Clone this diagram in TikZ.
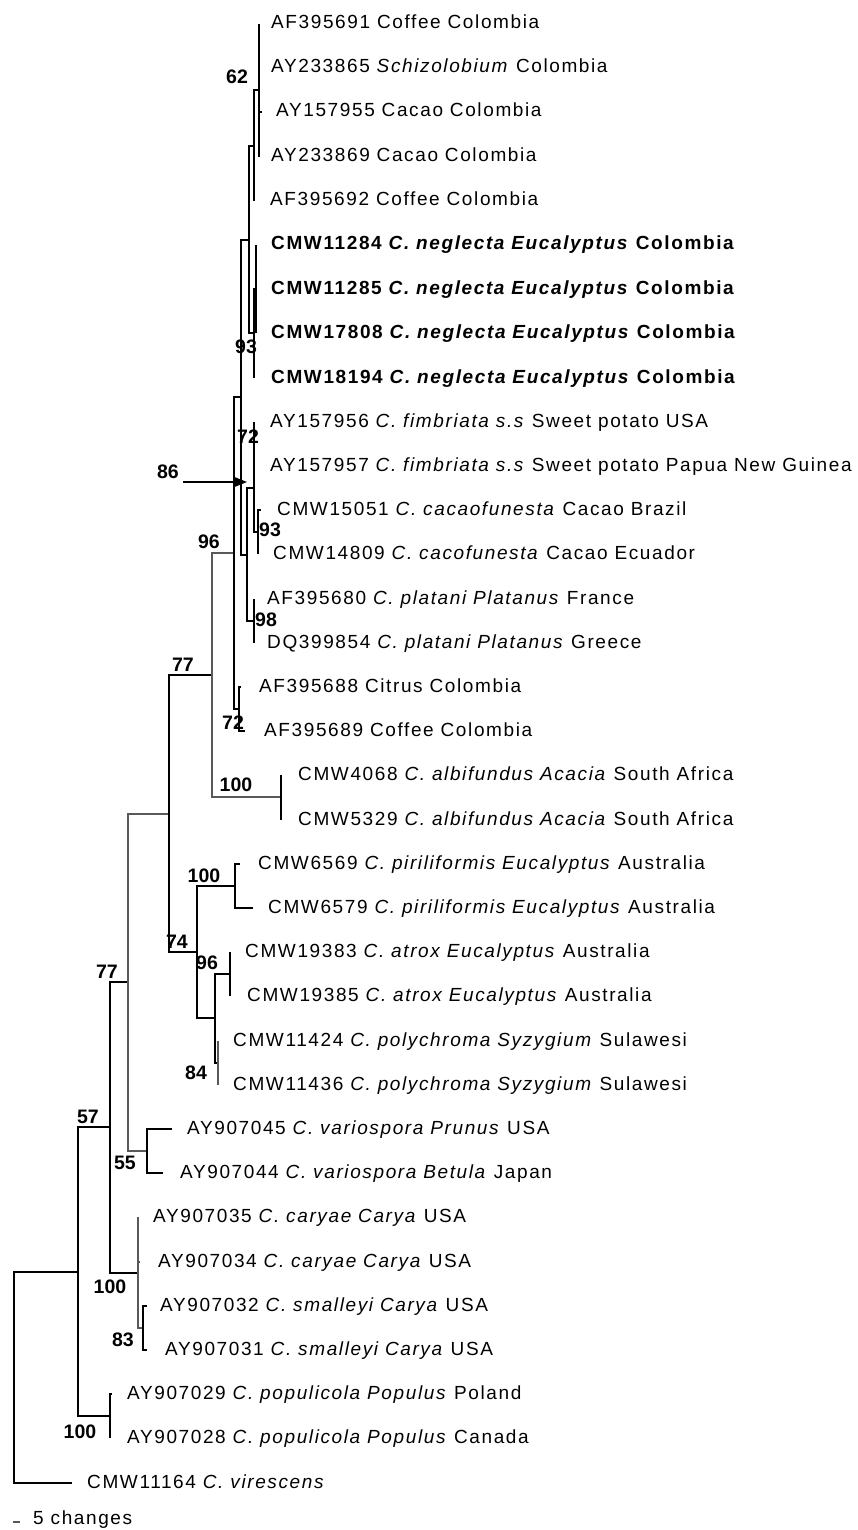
\documentclass[tikz,border=0pt]{standalone}
\usepackage{fontspec}
\setmainfont{Liberation Sans}[LetterSpace=8.5]
\newfontfamily\bootfont{Liberation Sans}
\usetikzlibrary{arrows.meta}
\tikzset{
taxon/.style={anchor=base west, inner sep=0pt, yshift=-5pt,
	font=\fontsize{19}{22}\selectfont},
boot/.style={inner sep=0pt, font=\bootfont\fontsize{19.5}{22}\selectfont\bfseries},
branch/.style={draw, line width=1.2pt},
faint/.style={branch, draw=black!65}
}

\begin{document}
\begin{tikzpicture}[x=1pt, y=-1pt]
	\useasboundingbox (0,0) rectangle (857,1530);
	% internal nodes
	\coordinate (root) at (14,1377);
	\coordinate (n57) at (78,1272);
	\coordinate (n77b) at (110,1127);
	\coordinate (npop) at (110,1416);
	\coordinate (ngray) at (128,982);
	\coordinate (ncar) at (138,1273);
	\coordinate (nsma) at (143,1328);
	\coordinate (nvar) at (147,1151);
	\coordinate (nA) at (169,814);
	\coordinate (nB) at (212,675);
	\coordinate (nC) at (197,952);
	\coordinate (nD) at (215,1018);
	\coordinate (npir) at (235,886);
	\coordinate (natr) at (230,974);
	\coordinate (npol) at (218,1063);
	\coordinate (nalb) at (281,797);
	\coordinate (nfim) at (234,553);
	\coordinate (ncit) at (239,709);
	\coordinate (nE) at (241,397);
	\coordinate (nF) at (249,240);
	\coordinate (nG) at (247,555);
	\coordinate (n62) at (254,146);
	\coordinate (ntop) at (259,90);
	\coordinate (nneg) at (254,333);
	\coordinate (nnegA) at (256,289);
	\coordinate (nH) at (254,488);
	\coordinate (nfs) at (254,444);
	\coordinate (ncac) at (258,532);
	\coordinate (npla) at (254,621);
	% tips
	\coordinate (c1) at (259,24);
	\coordinate (c2) at (259,68);
	\coordinate (c3) at (262,112);
	\coordinate (c4) at (259,157);
	\coordinate (c5) at (254,201);
	\coordinate (c6) at (256,245);
	\coordinate (c7) at (256,289);
	\coordinate (c8) at (256,333);
	\coordinate (c9) at (254,378);
	\coordinate (c10) at (254,422);
	\coordinate (c11) at (254,466);
	\coordinate (c12) at (261,510);
	\coordinate (c13) at (258,554);
	\coordinate (c14) at (254,599);
	\coordinate (c15) at (254,643);
	\coordinate (c16) at (241,687);
	\coordinate (c17) at (245,731);
	\coordinate (c18) at (281,775);
	\coordinate (c19) at (281,820);
	\coordinate (c20) at (240,864);
	\coordinate (c21) at (253,908);
	\coordinate (c22) at (230,952);
	\coordinate (c23) at (230,996);
	\coordinate (c24) at (218,1041);
	\coordinate (c25) at (218,1085);
	\coordinate (c26) at (172,1129);
	\coordinate (c27) at (163,1173);
	\coordinate (c28) at (138,1217);
	\coordinate (c29) at (140,1262);
	\coordinate (c30) at (147,1306);
	\coordinate (c31) at (147,1350);
	\coordinate (c32) at (112,1394);
	\coordinate (c33) at (110,1438);
	\coordinate (c34) at (72,1483);
	% branches
	\draw[branch] (root) |- (n57) (root) |- (c34);
	\draw[branch] (n57) |- (n77b) (n57) |- (npop);
	\draw[branch] (npop) |- (c32) (npop) |- (c33);
	\draw[branch] (n77b) |- (ngray) (n77b) |- (ncar);
	\draw[faint] (ncar) |- (c28) (ncar) |- (c29) (ncar) |- (nsma);
	\draw[branch] (nsma) |- (c30) (nsma) |- (c31);
	\draw[faint] (ngray) |- (nA) (ngray) |- (nvar);
	\draw[branch] (nvar) |- (c26) (nvar) |- (c27);
	\draw[branch] (nA) |- (nB) (nA) |- (nC);
	\draw[faint] (nB) |- (nfim) (nB) |- (nalb);
	\draw[branch] (nalb) |- (c18) (nalb) |- (c19);
	\draw[branch] (nC) |- (npir) (nC) |- (nD);
	\draw[branch] (npir) |- (c20) (npir) |- (c21);
	\draw[branch] (nD) |- (natr) (nD) |- (npol);
	\draw[branch] (natr) |- (c22) (natr) |- (c23);
	\draw[faint] (npol) |- (c24) (npol) |- (c25);
	\draw[branch] (nfim) |- (nE) (nfim) |- (ncit);
	\draw[branch] (ncit) |- (c16) (ncit) |- (c17);
	\draw[branch] (nE) |- (nF) (nE) |- (nG);
	\draw[branch] (nF) |- (n62) (nF) |- (nneg);
	\draw[branch] (n62) |- (ntop) (n62) |- (c5);
	\draw[branch] (ntop) |- (c1) (ntop) |- (c2) (ntop) |- (c3) (ntop) |- (c4);
	\draw[branch] (nneg) |- (nnegA) (nneg) |- (c9);
	\draw[branch] (nnegA) |- (c6) (nnegA) |- (c7) (nnegA) |- (c8);
	\draw[branch] (nG) |- (nH) (nG) |- (npla);
	\draw[branch] (nH) |- (nfs) (nH) |- (ncac);
	\draw[branch] (nfs) |- (c10) (nfs) |- (c11);
	\draw[branch] (ncac) |- (c12) (ncac) |- (c13);
	\draw[branch] (npla) |- (c14) (npla) |- (c15);
	% taxa
	\node[taxon] (t1) at (271,24) {AF395691 Coffee Colombia};
	\node[taxon] (t2) at (271,68) {AY233865 \textit{Schizolobium} Colombia};
	\node[taxon] (t3) at (276,112) {AY157955 Cacao Colombia};
	\node[taxon] (t4) at (271,157) {AY233869 Cacao Colombia};
	\node[taxon] (t5) at (270,201) {AF395692 Coffee Colombia};
	\node[taxon] (t6) at (271,245) {\textbf{CMW11284 \textit{C. neglecta Eucalyptus} Colombia}};
	\node[taxon] (t7) at (271,289) {\textbf{CMW11285 \textit{C. neglecta Eucalyptus} Colombia}};
	\node[taxon] (t8) at (271,333) {\textbf{CMW17808 \textit{C. neglecta Eucalyptus} Colombia}};
	\node[taxon] (t9) at (271,378) {\textbf{CMW18194 \textit{C. neglecta Eucalyptus} Colombia}};
	\node[taxon] (t10) at (270,422) {AY157956 \textit{C. fimbriata s.s} Sweet potato USA};
	\node[taxon] (t11) at (270,466) {AY157957 \textit{C. fimbriata s.s} Sweet potato Papua New Guinea};
	\node[taxon] (t12) at (277,510) {CMW15051 \textit{C. cacaofunesta} Cacao Brazil};
	\node[taxon] (t13) at (273,554) {CMW14809 \textit{C. cacofunesta} Cacao Ecuador};
	\node[taxon] (t14) at (267,599) {AF395680 \textit{C. platani Platanus} France};
	\node[taxon] (t15) at (267,643) {DQ399854 \textit{C. platani Platanus} Greece};
	\node[taxon] (t16) at (259,687) {AF395688 Citrus Colombia};
	\node[taxon] (t17) at (264,731) {AF395689 Coffee Colombia};
	\node[taxon] (t18) at (298,775) {CMW4068 \textit{C. albifundus Acacia} South Africa};
	\node[taxon] (t19) at (298,820) {CMW5329 \textit{C. albifundus Acacia} South Africa};
	\node[taxon] (t20) at (258,864) {CMW6569 \textit{C. piriliformis Eucalyptus} Australia};
	\node[taxon] (t21) at (268,908) {CMW6579 \textit{C. piriliformis Eucalyptus} Australia};
	\node[taxon] (t22) at (245,952) {CMW19383 \textit{C. atrox Eucalyptus} Australia};
	\node[taxon] (t23) at (247,996) {CMW19385 \textit{C. atrox Eucalyptus} Australia};
	\node[taxon] (t24) at (233,1041) {CMW11424 \textit{C. polychroma Syzygium} Sulawesi};
	\node[taxon] (t25) at (233,1085) {CMW11436 \textit{C. polychroma Syzygium} Sulawesi};
	\node[taxon] (t26) at (187,1129) {AY907045 \textit{C. variospora Prunus} USA};
	\node[taxon] (t27) at (180,1173) {AY907044 \textit{C. variospora Betula} Japan};
	\node[taxon] (t28) at (153,1217) {AY907035 \textit{C. caryae Carya} USA};
	\node[taxon] (t29) at (158,1262) {AY907034 \textit{C. caryae Carya} USA};
	\node[taxon] (t30) at (160,1306) {AY907032 \textit{C. smalleyi Carya} USA};
	\node[taxon] (t31) at (165,1350) {AY907031 \textit{C. smalleyi Carya} USA};
	\node[taxon] (t32) at (127,1394) {AY907029 \textit{C. populicola Populus} Poland};
	\node[taxon] (t33) at (127,1438) {AY907028 \textit{C. populicola Populus} Canada};
	\node[taxon] (t34) at (87,1483) {CMW11164 \textit{C. virescens}};
	% bootstrap values
	\node[boot] (b62) at (237,77) {62};
	\node[boot] (b93a) at (246,347) {93};
	\node[boot] (b72a) at (248,437) {72};
	\node[boot] (b86) at (168,472) {86};
	\node[boot] (b93b) at (270,530) {93};
	\node[boot] (b96a) at (209,542) {96};
	\node[boot] (b98) at (266,620) {98};
	\node[boot] (b77a) at (183,665) {77};
	\node[boot] (b72b) at (233,723) {72};
	\node[boot] (b100a) at (236,785) {100};
	\node[boot] (b100b) at (204,876) {100};
	\node[boot] (b74) at (177,942) {74};
	\node[boot] (b96b) at (207,963) {96};
	\node[boot] (b84) at (196,1073) {84};
	\node[boot] (b77b) at (107,972) {77};
	\node[boot] (b57) at (88,1117) {57};
	\node[boot] (b55) at (125,1163) {55};
	\node[boot] (b100c) at (110,1287) {100};
	\node[boot] (b83) at (123,1340) {83};
	\node[boot] (b100d) at (80,1432) {100};
	\coordinate (arr) at (183,482);
	\draw[branch, -{Triangle[length=13pt,width=10pt]}] (arr) -- (nG |- arr);
	% scale
	\coordinate (s1) at (13,1522);
	\coordinate (s2) at (20,1522);
	\draw[faint, line width=1.6pt] (s1) -- (s2);
	\node[taxon] (scale) at (33,1519) {5 changes};
\end{tikzpicture}
\end{document}
